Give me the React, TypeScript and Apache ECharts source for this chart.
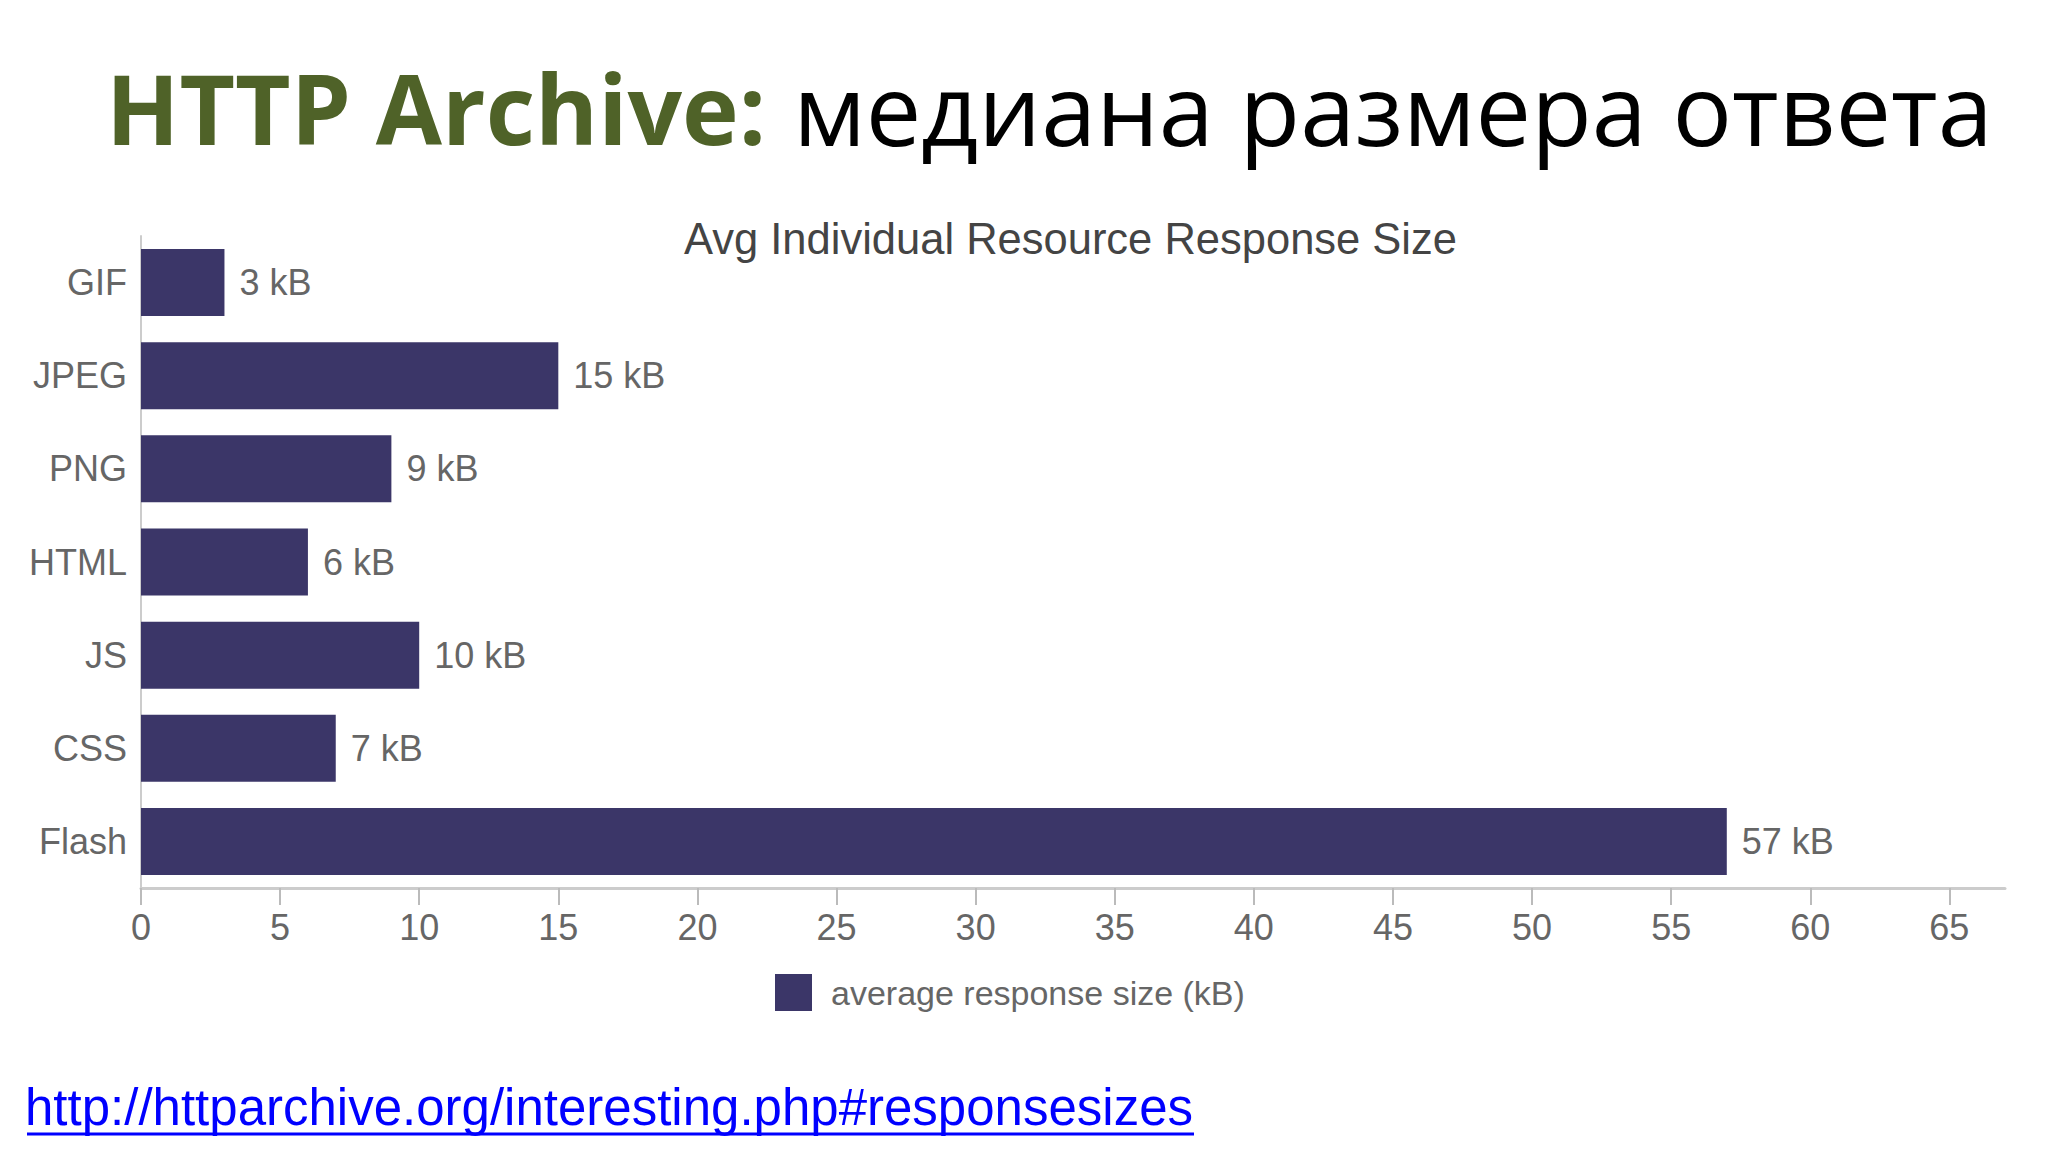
import React, { useEffect, useRef } from "react";
import * as echarts from "echarts";

const categories = ["GIF", "JPEG", "PNG", "HTML", "JS", "CSS", "Flash"];
const sizes = [3, 15, 9, 6, 10, 7, 57];
const xTicks = [0, 5, 10, 15, 20, 25, 30, 35, 40, 45, 50, 55, 60, 65];
const seriesName = "average response size (kB)";
const slideTitleBold = "HTTP Archive:";
const slideTitleRest = "медиана размера ответа";
const chartTitle = "Avg Individual Resource Response Size";
const sourceUrl = "http://httparchive.org/interesting.php#responsesizes";

const SANS = "'Liberation Sans', Arial, Helvetica, sans-serif";
const TITLE_FONT = "'Open Sans', 'Noto Sans', sans-serif";

export default function App() {
  const ref = useRef<HTMLDivElement>(null);

  useEffect(() => {
    if (!ref.current) return;
    const chart = echarts.init(ref.current, undefined, { renderer: "svg" });
    const option: any = {
      animation: false,
      backgroundColor: "#ffffff",
      title: [
        {
          text: `{g|${slideTitleBold}}{b|${slideTitleRest}}`,
          left: 106,
          top: 52,
          padding: 0,
          textStyle: {
            rich: {
              g: {
                fontFamily: TITLE_FONT,
                fontWeight: "bold",
                fontSize: 96,
                lineHeight: 110,
                color: "#4f6228",
              },
              b: {
                fontFamily: TITLE_FONT,
                fontWeight: "normal",
                fontSize: 99,
                lineHeight: 110,
                color: "#000000",
                padding: [0, 0, 0, 27],
              },
            },
          },
        },
        {
          text: chartTitle,
          left: 684,
          top: 217,
          padding: 0,
          textStyle: {
            fontFamily: SANS,
            fontWeight: "normal",
            fontSize: 43.5,
            lineHeight: 43,
            color: "#444444",
          },
        },
        {
          text: sourceUrl,
          left: 25,
          top: 1082,
          padding: 0,
          textStyle: {
            fontFamily: SANS,
            fontWeight: "normal",
            fontSize: 51,
            lineHeight: 51,
            color: "#0000ff",
          },
        },
      ],
      graphic: [
        {
          type: "line",
          shape: { x1: 27, y1: 1134, x2: 1194, y2: 1134 },
          style: { stroke: "#0000ff", lineWidth: 3 },
        },
      ],
      legend: {
        data: [seriesName],
        left: 775,
        top: 974,
        padding: 0,
        icon: "rect",
        itemWidth: 37,
        itemHeight: 37,
        textStyle: {
          fontFamily: SANS,
          fontSize: 34,
          color: "#666666",
          padding: [0, 0, 0, 14],
        },
      },
      grid: {
        left: 141,
        right: 43,
        top: 236,
        bottom: 264,
        containLabel: false,
      },
      xAxis: {
        type: "value",
        min: 0,
        max: 67,
        interval: 5,
        splitLine: { show: false },
        axisLine: { show: true, lineStyle: { color: "#cccccc", width: 3 } },
        axisTick: {
          show: true,
          length: 17,
          customValues: xTicks,
          lineStyle: { color: "#bbbbbb", width: 2 },
        },
        axisLabel: {
          customValues: xTicks,
          margin: 21,
          fontFamily: SANS,
          fontSize: 36,
          color: "#666666",
        },
      },
      yAxis: {
        type: "category",
        inverse: true,
        data: categories,
        axisLine: { show: true, lineStyle: { color: "#cccccc", width: 2 } },
        axisTick: { show: false },
        axisLabel: {
          margin: 14,
          fontFamily: SANS,
          fontSize: 36,
          color: "#666666",
        },
        splitLine: { show: false },
      },
      series: [
        {
          name: seriesName,
          type: "bar",
          data: sizes,
          barWidth: 67,
          itemStyle: { color: "#3b3668" },
          label: {
            show: true,
            position: "right",
            distance: 15,
            formatter: "{c} kB",
            fontFamily: SANS,
            fontSize: 36,
            color: "#666666",
          },
        },
      ],
    };
    chart.setOption(option);
    return () => chart.dispose();
  }, []);

  return (
    <div
      ref={ref}
      style={{ position: "fixed", left: 0, top: 0, width: 2048, height: 1152 }}
    />
  );
}
